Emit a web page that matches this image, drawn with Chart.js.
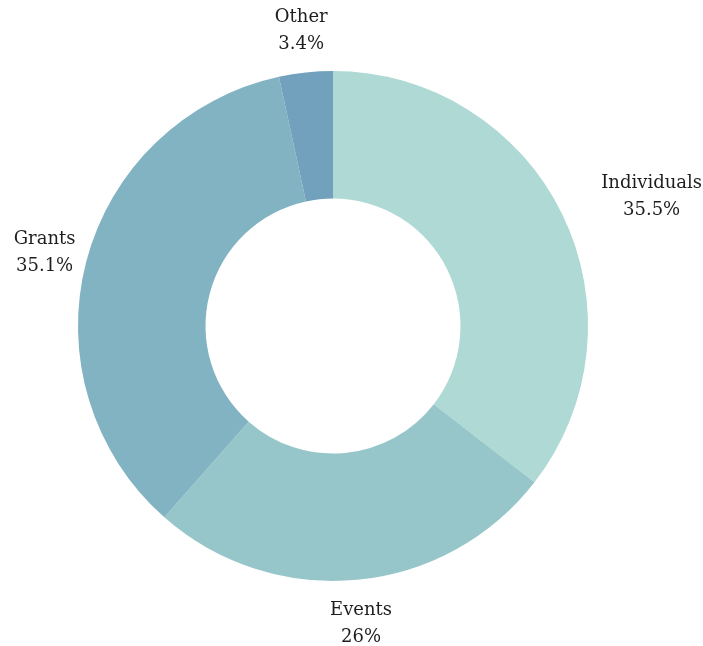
<!DOCTYPE html>
<html>
<head>
<meta charset="utf-8">
<script src="https://cdn.jsdelivr.net/npm/chart.js@4"></script>
<style>
html,body{margin:0;padding:0;background:#fff;}
#wrap{width:703px;height:646px;position:relative;}
</style>
</head>
<body>
<div id="wrap"><canvas id="c" width="703" height="646"></canvas></div>
<script>
const categories = ["Individuals", "Events", "Grants", "Other"];
const values = [35.5, 26, 35.1, 3.4];
const valueLabels = ["35.5%", "26%", "35.1%", "3.4%"];
const colors = ["#aed9d4", "#96c6c9", "#82b3c2", "#71a1bd"];

const outsideLabels = {
  id: 'outsideLabels',
  afterDatasetsDraw(chart) {
    const ctx = chart.ctx;
    const meta = chart.getDatasetMeta(0);
    ctx.save();
    ctx.font = '18px "DejaVu Serif"';
    ctx.fillStyle = '#1e1e1e';
    ctx.textAlign = 'center';
    ctx.textBaseline = 'middle';
    const lineH = 27;
    meta.data.forEach((arc, i) => {
      const p = arc.getProps(['x','y','startAngle','endAngle','outerRadius'], true);
      const mid = (p.startAngle + p.endAngle) / 2;
      const r = p.outerRadius + 43;
      let cx = p.x + Math.cos(mid) * r;
      let cy = p.y + Math.sin(mid) * r + 1.5;
      const lines = [categories[i], valueLabels[i]];
      const w = Math.max(...lines.map(t => ctx.measureText(t).width));
      const h = lineH * 2;
      const dist = (bx) => {
        const nx = Math.min(Math.max(p.x, bx - w/2), bx + w/2);
        const ny = Math.min(Math.max(p.y, cy - h/2), cy + h/2);
        return Math.hypot(nx - p.x, ny - p.y);
      };
      if (dist(cx) < p.outerRadius + 5 && Math.abs(Math.cos(mid)) > 0.3) {
        const dir = Math.sign(Math.cos(mid));
        let guard = 0;
        while (dist(cx) < p.outerRadius + 32 && guard < 400) { cx += dir; guard++; }
      }
      ctx.fillText(lines[0], cx, cy - lineH/2);
      ctx.fillText(lines[1], cx, cy + lineH/2);
    });
    ctx.restore();
  }
};

new Chart(document.getElementById('c'), {
  type: 'doughnut',
  data: {
    labels: categories,
    datasets: [{
      data: values,
      backgroundColor: colors,
      borderWidth: 0
    }]
  },
  options: {
    responsive: false,
    animation: false,
    cutout: '50%',
    layout: { padding: { top: 71, bottom: 65, left: 78, right: 115 } },
    plugins: {
      legend: { display: false },
      tooltip: { enabled: false }
    }
  },
  plugins: [outsideLabels]
});
</script>
</body>
</html>
